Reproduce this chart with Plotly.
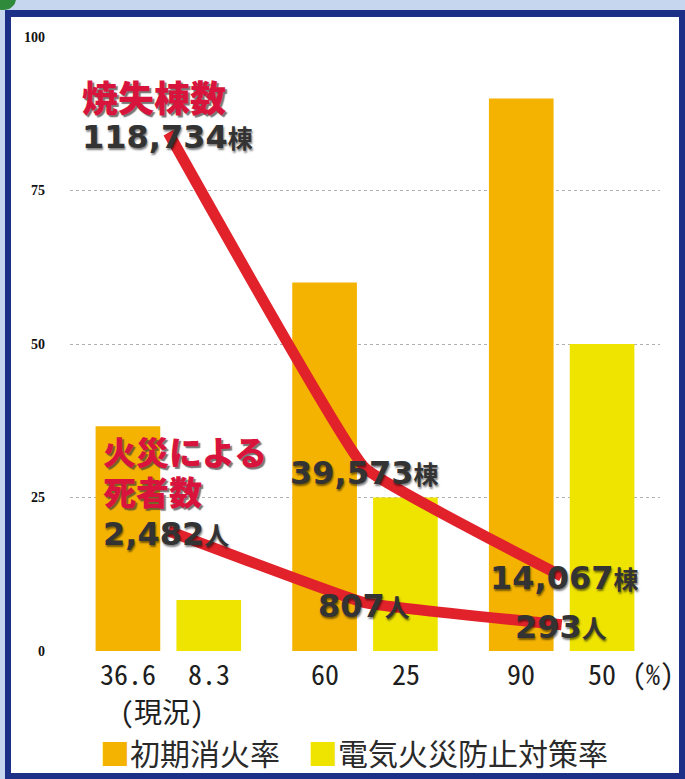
import plotly.graph_objects as go

# ---------------- data ----------------
groups = [0, 1, 2]                       # 現況 / 対策案1 / 対策案2
initial_rate = [36.6, 60, 90]            # 初期消火率 (%)
electric_rate = [8.3, 25, 50]            # 電気火災防止対策率 (%)
initial_labels = ["36.6", "60", "90"]
electric_labels = ["8.3", "25", "50"]
burned = [118734, 39573, 14067]          # 焼失棟数
deaths = [2482, 807, 293]                # 火災による死者数

series_names = ["初期消火率", "電気火災防止対策率"]

# ---------------- styling ----------------
W, H = 685, 779
L, R, T, B = 70, 25, 37, 128
PW, PH = W - L - R, H - T - B
ORANGE = "#F3B300"
YELLOW = "#EEE400"
RED = "#E2222B"
TITLE_RED = "#D9143C"
NUM = "#333333"
JP = "Noto Sans CJK JP"
MONO = "Noto Sans Mono CJK JP, Noto Sans CJK JP"
NUMF = "DejaVu Sans, Noto Sans CJK JP"

def xp(px):
    return (px - L) / PW

def yp(py):
    return (H - B - py) / PH

def xi(px):
    return (px - L) / (PW / 3) - 0.5

def yv(py):
    return (H - B - py) / PH * 100

fig = go.Figure()
fig.add_trace(go.Bar(x=groups, y=initial_rate, name=series_names[0],
                     marker=dict(color=ORANGE, line=dict(width=0))))
fig.add_trace(go.Bar(x=groups, y=electric_rate, name=series_names[1],
                     marker=dict(color=YELLOW, line=dict(width=0))))

# lines on their own hidden scales
fig.add_trace(go.Scatter(x=groups, y=burned, yaxis="y2", mode="lines",
                         line=dict(color=RED, width=11, shape="spline", smoothing=0.25),
                         showlegend=False))
fig.add_trace(go.Scatter(x=groups, y=deaths, yaxis="y3", mode="lines",
                         line=dict(color=RED, width=11, shape="spline", smoothing=0.25),
                         showlegend=False))

ann = []
tick_font = dict(family=MONO, size=28, color="#1E1E1E")
# x tick labels (bar values)
for i, g in enumerate(groups):
    for lab, sh in ((initial_labels[i], -40.5), (electric_labels[i], 40.5)):
        ann.append(dict(x=g, xref="x", xshift=sh, y=yp(673), yref="paper",
                        text=lab, showarrow=False, xanchor="center", yanchor="middle",
                        font=tick_font))
ann.append(dict(x=xp(162), xref="paper", y=yp(711), yref="paper",
                text="(現況)", showarrow=False, xanchor="center", yanchor="middle",
                font=tick_font))
ann.append(dict(x=xp(653), xref="paper", y=yp(673), yref="paper",
                text="(%)", showarrow=False, xanchor="center", yanchor="middle",
                font=tick_font))

# titles and values of the lines
def tfont(size):
    return dict(family=JP, size=size, color=TITLE_RED, weight=900,
                shadow="2px 2px 1px rgba(60,60,60,0.7)")

num_font = dict(family=NUMF, size=32, color=NUM, weight=700,
                shadow="1px 2px 2px rgba(0,0,0,0.5)")

def add_text(px, py, text, font):
    ann.append(dict(x=xi(px), xref="x", y=yv(py), yref="y", text=text,
                    showarrow=False, xanchor="left", yanchor="middle", font=font))

def val(v, unit):
    return f"{v:,}<span style='font-size:25px;font-family:Noto Sans CJK JP'>{unit}</span>"

add_text(80, 96, "焼失棟数", tfont(36))
add_text(80, 137, val(burned[0], "棟"), num_font)
add_text(101, 451, "火災による", tfont(33))
add_text(101, 491, "死者数", tfont(33))
add_text(101, 534, val(deaths[0], "人"), num_font)
add_text(288, 473, val(burned[1], "棟"), num_font)
add_text(316, 606, val(deaths[1], "人"), num_font)
add_text(488, 578, val(burned[2], "棟"), num_font)
add_text(513, 627, val(deaths[2], "人"), num_font)

# legend as text with coloured squares
leg_font = dict(family=JP, size=30, color="#2A2A2A")
ann.append(dict(x=xp(98), xref="paper", y=yp(752), yref="paper",
                text=f"<span style='color:{ORANGE}'>■</span>{series_names[0]}",
                showarrow=False, xanchor="left", yanchor="middle", font=leg_font))
ann.append(dict(x=xp(306), xref="paper", y=yp(752), yref="paper",
                text=f"<span style='color:{YELLOW}'>■</span>{series_names[1]}",
                showarrow=False, xanchor="left", yanchor="middle", font=leg_font))

shapes = [
    dict(type="rect", xref="paper", yref="paper", x0=xp(5), x1=xp(690), y0=yp(10), y1=yp(785),
         fillcolor="#1C3088", line=dict(width=0), layer="below"),
    dict(type="rect", xref="paper", yref="paper", x0=xp(11), x1=xp(679), y0=yp(17), y1=yp(773),
         fillcolor="white", line=dict(width=0), layer="below"),
    dict(type="circle", xref="paper", yref="paper", x0=xp(-10), x1=xp(16), y0=yp(-12), y1=yp(10),
         fillcolor="#2F8A3C", line=dict(width=0), layer="below"),
]

# hidden axis ranges fitted to the picture
b_lo, b_hi = -3624, 141345
d_lo, d_hi = -317, 13983

fig.update_layout(
    width=W, height=H, autosize=False,
    margin=dict(l=L, r=R, t=T, b=B),
    paper_bgcolor="#C6D6EE", plot_bgcolor="white",
    barmode="group", bargap=0.178, bargroupgap=0.2,
    showlegend=False,
    xaxis=dict(range=[-0.5, 2.5], showticklabels=False, showgrid=False,
               zeroline=False, ticks="", fixedrange=True),
    yaxis=dict(range=[0, 100], tickvals=[0, 25, 50, 75, 100], ticks="",
               showgrid=True, gridcolor="#B0B0B0", griddash="dot", gridwidth=1,
               zeroline=False, ticklabelstandoff=24,
               tickfont=dict(family="Liberation Serif", size=14, color="#111", weight=700)),
    yaxis2=dict(range=[b_lo, b_hi], overlaying="y", visible=False),
    yaxis3=dict(range=[d_lo, d_hi], overlaying="y", visible=False),
    annotations=ann, shapes=shapes,
)

fig.write_html("out.html", config={"displayModeBar": False},
               post_script="document.body.style.margin='0px';document.body.style.overflow='hidden';")
